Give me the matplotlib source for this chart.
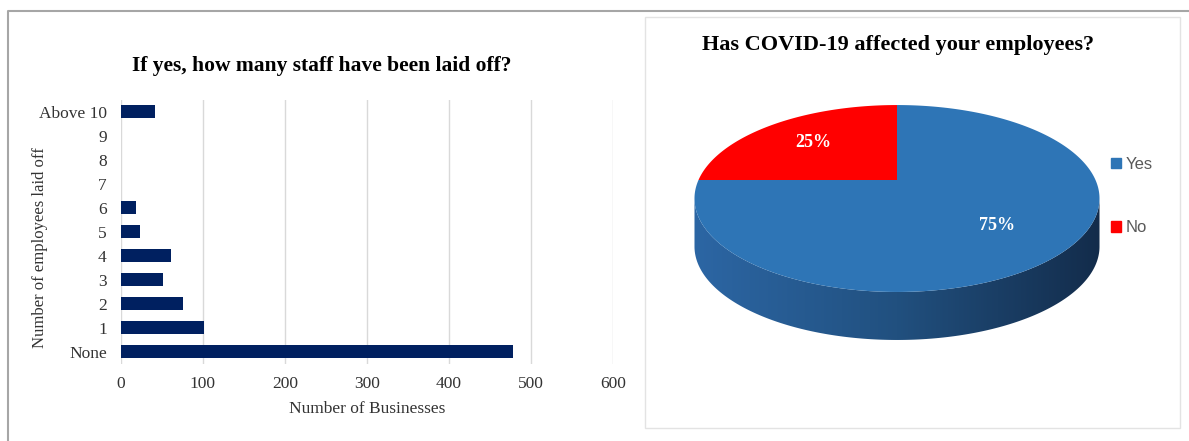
import numpy as np
import matplotlib
matplotlib.use("Agg")
import matplotlib.pyplot as plt
import matplotlib.patches as mpatches
from matplotlib.colors import LinearSegmentedColormap

# --- data ---
layoff_cats = ['None', '1', '2', '3', '4', '5', '6', '7', '8', '9', 'Above 10']
layoff_counts = [478, 102, 76, 52, 61, 23, 19, 0, 0, 0, 42]
covid_labels = ['Yes', 'No']
covid_share = [75, 25]
covid_colors = ['#2E75B6', '#FF0000']

W, H = 1189, 441
SERIF = 'Liberation Serif'
SANS = 'Liberation Sans'

fig = plt.figure(figsize=(W / 100, H / 100), dpi=100)

# background canvas in pixel coords (frames, pie)
bg = fig.add_axes([0, 0, 1, 1])
bg.set_xlim(0, W)
bg.set_ylim(H, 0)
bg.axis('off')
bg.plot([8, 8, W], [H, 11, 11], color='#a6a6a6', lw=1.5)
bg.add_patch(mpatches.Rectangle((645, 17), 535, 411, fill=False, ec='#e3e3e3', lw=1))

# --- left: horizontal bars ---
ax = fig.add_axes([120.7 / W, 1 - 363.7 / H, (613 - 120.7) / W, 264 / H])
ax.set_facecolor('none')
ax.barh(range(len(layoff_cats)), layoff_counts, height=0.55, color='#002060', zorder=3)
ax.set_ylim(-0.5, len(layoff_cats) - 0.5)
ax.set_xlim(0, 600)
ax.set_xticks(range(0, 601, 100))
ax.set_yticks(range(len(layoff_cats)))
ax.set_yticklabels(layoff_cats)
ax.grid(axis='x', color='#d9d9d9', lw=1, zorder=0)
for s in ax.spines.values():
    s.set_visible(False)
ax.tick_params(length=0, labelsize=12.5, labelcolor='#333333')
ax.tick_params(axis='y', pad=10)
ax.tick_params(axis='x', pad=9)
for lab in ax.get_xticklabels() + ax.get_yticklabels():
    lab.set_fontfamily(SERIF)
ax.set_xlabel('Number of Businesses', fontsize=12.5, family=SERIF, color='#333333', labelpad=6)
fig.text(40 / W, 1 - 248 / H, 'Number of employees laid off', rotation=90, ha='center', va='center',
         fontsize=12, family=SERIF, color='#333333')
fig.text(322 / W, 1 - 66 / H, 'If yes, how many staff have been laid off?', ha='center', va='center',
         fontsize=15.5, weight='bold', family=SERIF)

# --- right: 3D-looking pie ---
PCX, PCY = 897, 180      # pie centre in pixels
A, B, K = 198.5, 89.8, 0.198   # projection radii and perspective
DEPTH = 48


def proj(theta_deg, r=1.0):
    t = np.radians(theta_deg)
    c, s = r * np.cos(t), r * np.sin(t)
    den = 1 + K * s
    return PCX + A * c / den, PCY - B * s / den


# visible side (front arc)
a = np.degrees(np.arcsin(K))
th = np.linspace(180 + a, 360 - a, 300)
sx, sy = proj(th)
side_xy = np.column_stack([np.r_[sx, sx[::-1]], np.r_[sy, sy[::-1] + DEPTH]])
side = mpatches.Polygon(side_xy, closed=True, fc='none', ec='none')
bg.add_patch(side)
cmap = LinearSegmentedColormap.from_list('side', ['#2C66A4', '#21507F', '#132C4B'])
img = bg.imshow(np.linspace(0, 1, 256)[None, :], cmap=cmap, aspect='auto',
                extent=(sx.min(), sx.max(), sy.max() + DEPTH, sy.min()), zorder=1)
img.set_clip_path(side)

total = sum(covid_share)
start = 90.0
for lab, val, col in zip(covid_labels, covid_share, covid_colors):
    sweep = val / total * 360
    ths = np.linspace(start, start - sweep, 300)
    x, y = proj(ths)
    poly = np.column_stack([np.r_[PCX, x], np.r_[PCY, y]])
    bg.add_patch(mpatches.Polygon(poly, closed=True, fc=col, ec='none', zorder=2))
    lx, ly = proj(start - sweep / 2, 0.65)
    bg.text(lx, ly, f'{val / total * 100:.0f}%', color='white', fontsize=13, weight='bold',
            family=SERIF, ha='center', va='center', zorder=3)
    start -= sweep

bg.set_xlim(0, W)
bg.set_ylim(H, 0)

fig.text(898 / W, 1 - 45 / H, 'Has COVID-19 affected your employees?', ha='center', va='center',
         fontsize=16, weight='bold', family=SERIF)

handles = [mpatches.Patch(color=c) for c in covid_colors]
fig.legend(handles, covid_labels, loc='center left', bbox_to_anchor=(1096 / W, 1 - 196 / H),
           frameon=False, handlelength=0.6, handleheight=0.6, handletextpad=0.3,
           labelspacing=2.9, prop={'family': SANS, 'size': 12}, labelcolor='#595959')

fig.savefig('out.png', dpi=100)
